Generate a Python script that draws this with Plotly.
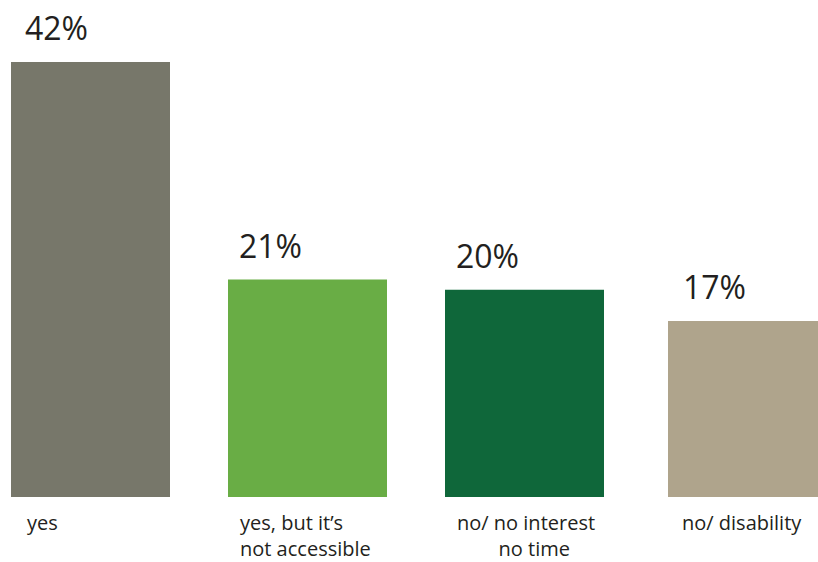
import plotly.graph_objects as go

categories = ["yes", "yes, but it’s not accessible", "no/ no interest no time", "no/ disability"]
values = [42, 21, 20, 17]
value_labels = ["42%", "21%", "20%", "17%"]
category_labels = [
    "yes",
    "yes, but it’s<br>not accessible",
    "no/ no interest<br>" + "\u00a0" * 8 + "no time",
    "no/ disability",
]
colors = ["#77776a", "#69ad45", "#0f673a", "#afa48c"]

# style / layout constants
bar_width = 159 / 217
offsets = [-bar_width / 2, -bar_width / 2, -bar_width / 2, -0.3387]
pct_xshift = [-68, -71, -71, -61]
cat_xshift = [-65, -69, -69, -61]
text_color = "#231f20"
font_family = "Open Sans, Noto Sans, DejaVu Sans, sans-serif"

fig = go.Figure()
fig.add_trace(go.Bar(
    x=categories,
    y=values,
    marker=dict(color=colors, line=dict(width=0)),
    width=[bar_width] * 4,
    offset=offsets,
    hoverinfo="skip",
    showlegend=False,
))

annotations = []
for i, cat in enumerate(categories):
    annotations.append(dict(
        x=cat, y=values[i], xref="x", yref="y",
        text=value_labels[i], showarrow=False,
        xanchor="left", yanchor="bottom",
        xshift=pct_xshift[i], yshift=11,
        font=dict(family=font_family, size=32, color=text_color),
    ))
    annotations.append(dict(
        x=cat, y=0, xref="x", yref="paper",
        text=category_labels[i], showarrow=False,
        xanchor="left", yanchor="top", align="left",
        xshift=cat_xshift[i], yshift=-11, borderpad=0,
        font=dict(family=font_family, size=20, color=text_color),
    ))

fig.update_layout(
    width=818, height=562,
    margin=dict(l=0, r=0, t=0, b=65),
    paper_bgcolor="white", plot_bgcolor="white",
    xaxis=dict(visible=False, range=[-90.5 / 217, -90.5 / 217 + 818 / 217]),
    yaxis=dict(visible=False, range=[0, 497 / (435 / 42)]),
    annotations=annotations,
)

fig.write_html(
    "out.html",
    config={"displayModeBar": False},
    post_script="document.body.style.margin='0';document.body.style.overflow='hidden';",
)
